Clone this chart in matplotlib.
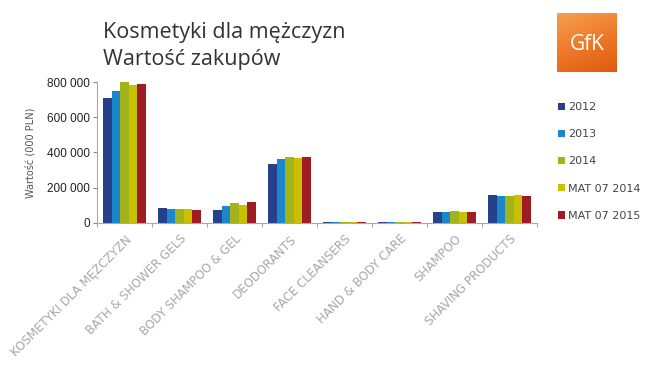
import numpy as np
import matplotlib
matplotlib.use("Agg")
import matplotlib.pyplot as plt
from matplotlib.ticker import FuncFormatter

# dane (000 PLN)
categories = ["KOSMETYKI DLA MĘŻCZYZN", "BATH & SHOWER GELS", "BODY SHAMPOO & GEL",
              "DEODORANTS", "FACE CLEANSERS", "HAND & BODY CARE", "SHAMPOO",
              "SHAVING PRODUCTS"]
series_names = ["2012", "2013", "2014", "MAT 07 2014", "MAT 07 2015"]
v2012 = [712000, 82000, 70000, 334000, 5000, 5000, 63000, 157000]
v2013 = [748000, 76000, 94000, 362000, 5000, 5000, 63000, 151000]
v2014 = [805000, 76000, 114000, 377000, 5000, 5000, 69000, 150000]
vmat14 = [785000, 76000, 103000, 371000, 5000, 5000, 63000, 155000]
vmat15 = [789000, 70000, 120000, 377000, 5000, 5000, 63000, 150000]
colors = ["#26408a", "#1a86cc", "#a3b41a", "#c9c000", "#a01c25"]

values = [v2012, v2013, v2014, vmat14, vmat15]

fig = plt.figure(figsize=(6.55, 3.65), dpi=100)
ax = fig.add_axes([0.148, 0.39, 0.672, 0.3845])

x = np.arange(len(categories))
bw = 0.154
for i, (vals, c, name) in enumerate(zip(values, colors, series_names)):
    ax.bar(x + (i - 2) * bw, vals, width=bw, color=c, label=name, linewidth=0)

ax.set_xlim(-0.5, len(categories) - 0.5)
ax.set_ylim(0, 800000)
ax.set_yticks([0, 200000, 400000, 600000, 800000])
ax.yaxis.set_major_formatter(FuncFormatter(lambda v, p: f"{int(v):,}".replace(",", " ")))
ax.tick_params(axis="y", labelsize=8.5, colors="#888888", labelcolor="#222222",
               length=3, width=0.8, pad=2)
for lab in ax.get_yticklabels():
    lab.set_family("Liberation Sans")

# ticki osi X na granicach kategorii, etykiety na srodku
ax.set_xticks(np.arange(len(categories) + 1) - 0.5)
ax.set_xticklabels([])
ax.set_xticks(x, minor=True)
ax.set_xticklabels(categories, minor=True, rotation=45, ha="right", va="top",
                   rotation_mode="anchor", fontsize=8.6, color="#a8a8a8",
                   family="Liberation Sans Narrow")
ax.tick_params(axis="x", which="major", length=3, width=0.8, colors="#aaaaaa")
ax.tick_params(axis="x", which="minor", length=0, pad=7)

for s in ["top", "right"]:
    ax.spines[s].set_visible(False)
ax.spines["left"].set_color("#aaaaaa")
ax.spines["bottom"].set_color("#aaaaaa")

ax.set_ylabel("Wartość (000 PLN)", fontsize=7, color="#555555", labelpad=8)

fig.text(0.158, 1 - 38 / 365, "Kosmetyki dla mężczyzn", fontsize=15.5, color="#333333",
         family="Open Sans", va="baseline")
fig.text(0.158, 1 - 65 / 365, "Wartość zakupów", fontsize=15.5, color="#333333",
         family="Open Sans", va="baseline")

leg = ax.legend(loc="upper left", bbox_to_anchor=(0.852, 1 - 102 / 365),
                bbox_transform=fig.transFigure, frameon=False, fontsize=8,
                handlelength=0.6, handleheight=0.6, handletextpad=0.3,
                labelspacing=1.55, borderaxespad=0, borderpad=0)
for t in leg.get_texts():
    t.set_color("#444444")

# logo GfK
lax = fig.add_axes([557 / 655, 1 - 72 / 365, 60 / 655, 59 / 365])
grad = np.linspace(0, 1, 100)[:, None] * np.ones((1, 100))
grad = grad + np.linspace(0, 1, 100)[None, :] * 0.4
lax.imshow(grad, cmap=matplotlib.colors.LinearSegmentedColormap.from_list(
    "gfk", ["#f5a050", "#ee7a28", "#e05a10"]), aspect="auto", extent=(0, 1, 0, 1))
lax.text(0.5, 0.47, "GfK", color="white", fontsize=15, ha="center", va="center",
         family="Open Sans")
lax.set_axis_off()

fig.savefig("out.png", dpi=100)
